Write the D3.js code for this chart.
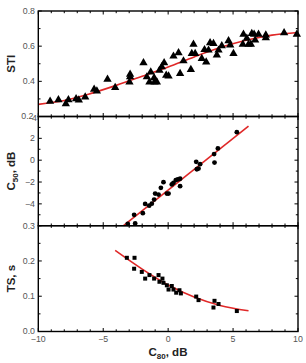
<!DOCTYPE html>
<html><head><meta charset="utf-8">
<script src="https://cdn.jsdelivr.net/npm/d3@7"></script>
<style>body{margin:0;background:#fff}svg{display:block}</style>
</head><body>
<script>
// ---- data ----
const stiX = [-9.09,-8.45,-7.88,-7.68,-7.09,-6.88,-6.39,-5.70,-5.49,-4.67,-4.08,-2.98,-2.93,-2.93,-1.90,-1.64,-1.44,-1.34,-1.08,-1.05,-0.87,-0.67,-0.49,-0.31,-0.15,0.03,0.41,0.80,0.92,1.18,1.75,1.82,1.95,2.08,2.59,2.80,2.93,3.11,3.23,3.49,3.75,3.88,4.13,4.65,4.78,5.03,5.75,5.80,6.06,6.19,6.37,6.44,6.62,6.70,6.96,7.52,7.52,8.93,9.91];
const stiY = [0.286,0.295,0.272,0.295,0.300,0.293,0.310,0.354,0.345,0.411,0.364,0.396,0.440,0.425,0.505,0.425,0.396,0.453,0.420,0.396,0.396,0.463,0.482,0.505,0.434,0.430,0.543,0.562,0.444,0.516,0.467,0.558,0.610,0.558,0.530,0.580,0.510,0.577,0.619,0.615,0.549,0.577,0.602,0.630,0.606,0.558,0.610,0.667,0.644,0.610,0.610,0.672,0.667,0.634,0.667,0.663,0.648,0.676,0.667];
const stiFitX = [-10,-8,-6,-4,-2,0,2,4,6,8,10];
const stiFitY = [0.269,0.291,0.330,0.377,0.429,0.482,0.539,0.592,0.634,0.663,0.678];

const c50X = [-3.11,-2.54,-2.62,-1.95,-1.77,-1.46,-1.26,-1.08,-1.00,-0.74,-0.56,-0.36,-0.10,0.03,0.28,0.41,0.59,0.74,0.92,0.92,2.16,2.21,2.34,2.46,3.54,3.57,3.83,5.29];
const c50Y = [-5.83,-5.80,-5.00,-4.85,-4.01,-4.17,-3.98,-3.61,-3.06,-3.15,-2.53,-2.01,-3.06,-3.06,-2.22,-2.07,-1.82,-1.76,-1.70,-2.38,-0.15,-0.83,-0.77,-0.37,0.56,-0.22,1.08,2.56];
const c50FitX = [-3.44, 6.19];
const c50FitY = [-6.0, 3.12];

const tsX = [-3.18,-2.59,-2.62,-2.03,-1.77,-1.44,-1.08,-0.74,-0.67,-0.44,-0.36,-0.10,0.03,0.28,0.41,0.62,0.87,0.98,2.16,2.34,3.49,3.57,3.88,5.29];
const tsY = [0.209,0.209,0.178,0.169,0.150,0.160,0.150,0.160,0.141,0.150,0.138,0.131,0.119,0.129,0.119,0.110,0.117,0.108,0.099,0.089,0.068,0.087,0.078,0.058];
const tsFitX = [-4.08,-2,0,2,4,6.19];
const tsFitY = [0.230,0.177,0.132,0.098,0.074,0.059];

const xTicks = [-10,-5,0,5,10];
const stiTicks = [0.2,0.4,0.6,0.8];
const c50Ticks = [-4,-2,0,2,4];
const tsTicks = [0.0,0.1,0.2,0.3];

// ---- layout ----
const W = 306, H = 363;
const L = 38.3, R = 298;
const FONT = "Liberation Sans, Arial, sans-serif";
const svg = d3.select("body").append("svg").attr("width", W).attr("height", H);
const x = d3.scaleLinear().domain([-10,10]).range([L,R]);

const panels = [
  {top:11, bot:116.5, dom:[0.2,0.8], ticks:stiTicks, minor:d3.range(0.2,0.8001,0.1), fmt:d3.format(".1f"), label:"STI", sub:null, after:""},
  {top:116.5, bot:225.7, dom:[-6,4], ticks:c50Ticks, minor:d3.range(-6,4.001,1), fmt:d3.format("d"), label:"C", sub:"50", after:", dB"},
  {top:225.7, bot:331.5, dom:[0,0.3], ticks:tsTicks, minor:d3.range(0,0.3001,0.05), fmt:d3.format(".1f"), label:"TS, s", sub:null, after:""}
];
panels.forEach(p => { p.y = d3.scaleLinear().domain(p.dom).range([p.bot,p.top]); });

const red = "#e02828";
const labCol = "#555";

function line(p, xs, ys){
  svg.append("path").datum(xs.map((v,i)=>[v,ys[i]]))
    .attr("fill","none").attr("stroke",red).attr("stroke-width",1.6)
    .attr("d", d3.line().x(d=>x(d[0])).y(d=>p.y(d[1])).curve(d3.curveMonotoneX));
}
const p1=panels[0], p2=panels[1], p3=panels[2];
line(p1, stiFitX, stiFitY);
line(p2, c50FitX, c50FitY);
line(p3, tsFitX, tsFitY);

svg.append("g").selectAll("path").data(stiX.map((v,i)=>[v,stiY[i]])).join("path")
  .attr("d", d3.symbol(d3.symbolTriangle, 30)())
  .attr("transform", d=>`translate(${x(d[0])},${p1.y(d[1])})`).attr("fill","#000");
svg.append("g").selectAll("circle").data(c50X.map((v,i)=>[v,c50Y[i]])).join("circle")
  .attr("cx", d=>x(d[0])).attr("cy", d=>p2.y(d[1])).attr("r",2.4).attr("fill","#000");
svg.append("g").selectAll("rect").data(tsX.map((v,i)=>[v,tsY[i]])).join("rect")
  .attr("x", d=>x(d[0])-2).attr("y", d=>p3.y(d[1])-2).attr("width",4).attr("height",4).attr("fill","#000");

const minorX = d3.range(-10,10.001,1);
panels.forEach((p,pi) => {
  const g = svg.append("g").attr("stroke","#000").attr("stroke-width",1);
  minorX.forEach(v => {
    const major = Math.abs(v % 5) < 1e-9;
    const len = major ? 3.5 : 2.2;
    const xx = x(v);
    g.append("line").attr("x1",xx).attr("x2",xx).attr("y1",p.top).attr("y2",p.top+len);
    g.append("line").attr("x1",xx).attr("x2",xx).attr("y1",p.bot).attr("y2",p.bot-len);
  });
  p.minor.forEach(v => {
    const major = p.ticks.some(t=>Math.abs(t-v)<1e-9);
    const len = major ? 3.5 : 2.2;
    const yy = p.y(v);
    g.append("line").attr("x1",L).attr("x2",L+len).attr("y1",yy).attr("y2",yy);
    g.append("line").attr("x1",R).attr("x2",R-len).attr("y1",yy).attr("y2",yy);
  });
  svg.append("rect").attr("x",L).attr("y",p.top).attr("width",R-L).attr("height",p.bot-p.top)
    .attr("fill","none").attr("stroke","#000").attr("stroke-width",1.4);
  const tl = svg.append("g").attr("font-family",FONT).attr("font-size",8.8).attr("fill",labCol).attr("text-anchor","end");
  p.ticks.forEach(v => {
    let xx = 35, yy = p.y(v)+3;
    if (pi===1 && v===4) { xx = 37; yy = p.y(v)+4; }
    if (pi===0 && v===0.2) { xx = 33.5; yy = p.y(v)+2.5; }
    if (pi===2 && v===0) { yy = p.y(v)+2.5; }
    tl.append("text").attr("x",xx).attr("y",yy).text(p.fmt(v));
  });
  const cy = (p.top+p.bot)/2;
  const t = svg.append("text").attr("transform",`translate(15,${cy}) rotate(-90)`)
    .attr("text-anchor","middle").attr("font-family",FONT)
    .attr("font-weight","bold").attr("font-size",11.5).attr("fill","#222");
  t.append("tspan").text(p.label);
  if (p.sub) {
    t.append("tspan").attr("font-size",8).attr("dy",3).text(p.sub);
    t.append("tspan").attr("dy",-3).text(p.after);
  }
});

const xl = svg.append("g").attr("font-family",FONT).attr("font-size",8.8).attr("fill",labCol).attr("text-anchor","middle");
xTicks.forEach(v => xl.append("text").attr("x",x(v)).attr("y",342).text(d3.format("d")(v)));

const xt = svg.append("text").attr("x",168).attr("y",356).attr("text-anchor","middle")
  .attr("font-family",FONT).attr("font-weight","bold").attr("font-size",11.5).attr("fill","#222");
xt.append("tspan").text("C");
xt.append("tspan").attr("font-size",8).attr("dy",3).text("80");
xt.append("tspan").attr("dy",-3).text(", dB");
</script>
</body></html>
